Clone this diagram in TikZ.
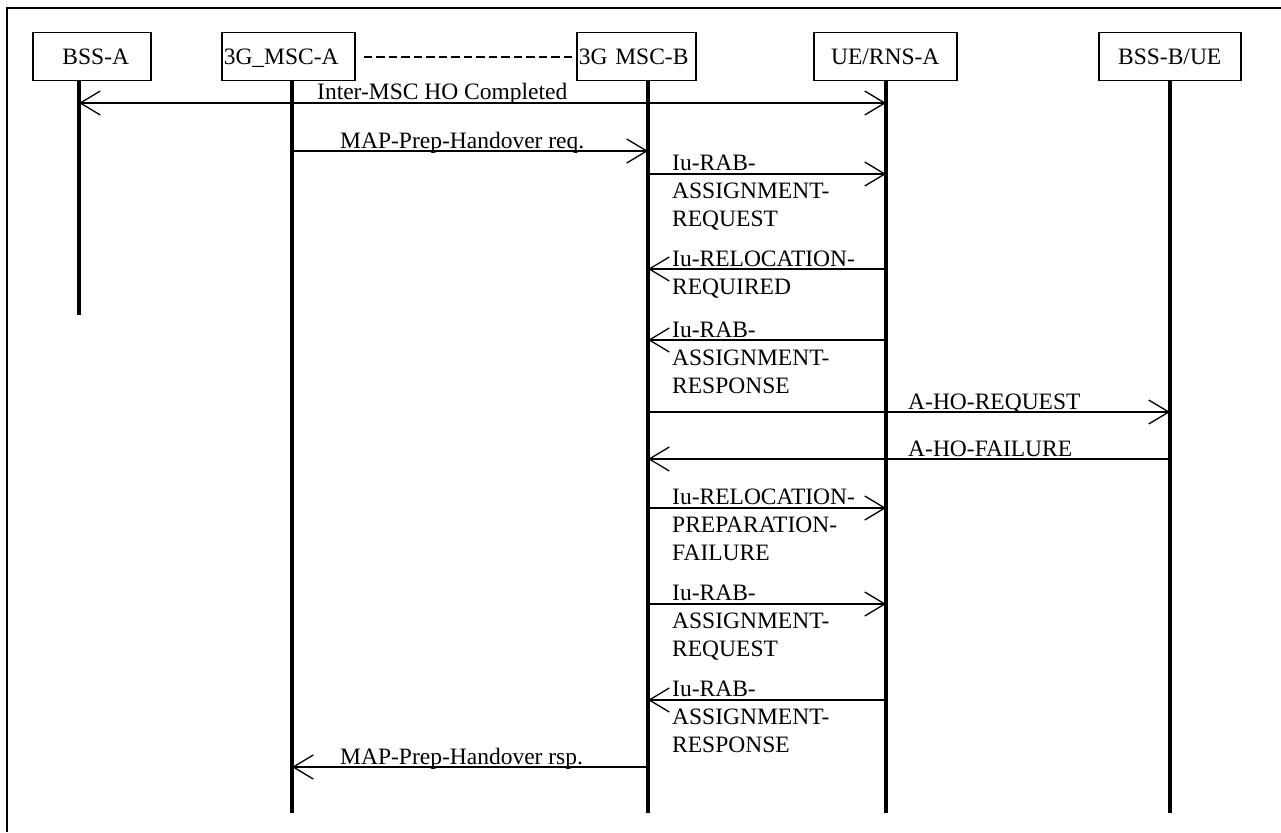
\documentclass[tikz,border=0pt]{standalone}
\usepackage{fontspec}
\setmainfont{Liberation Serif}
\usetikzlibrary{arrows.meta,calc}
\tikzset{
  box/.style={draw, line width=1.5pt, inner xsep=2pt, inner ysep=0pt, minimum height=48pt, text height=16pt, text depth=0pt, anchor=north west},
  life/.style={line width=4pt},
  msg/.style={line width=1.3pt},
  tipR/.style={-{Straight Barb[length=20pt,width=24pt,line width=1.3pt]}},
  tipL/.style={{Straight Barb[length=20pt,width=24pt,line width=1.3pt]}-},
  tipLR/.style={{Straight Barb[length=20pt,width=24pt,line width=1.3pt]}-{Straight Barb[length=20pt,width=24pt,line width=1.3pt]}},
  lbl/.style={inner sep=0pt, anchor=base west},
  mlbl/.style={inner sep=0pt, anchor=base west, text width=220pt, align=left},
}
\begin{document}
\begin{tikzpicture}[x=1pt, y=-1pt, font=\fontsize{23.5}{28}\selectfont]
\useasboundingbox (0,0) rectangle (1281,832);
\fill[white] (0,0) rectangle (1281,832);
% frame
\draw[line width=1.3pt] (7,832) -- (7,8) -- (1281,8);
% boxes
\node[box, text width=114pt, align=center] (bssA) at (32,32) {\hspace*{8pt}BSS-A};
\node[box, text width=129pt, align=left] (mscA) at (221,32) {3G\_MSC-A};
\node[box, text width=115pt, align=left] (mscB) at (576,32) {3G MSC-B};
\node[box, text width=139pt, align=center] (rnsA) at (813,32) {UE/RNS-A};
\node[box, text width=138pt, align=center] (bssB) at (1098,32) {BSS-B/UE};
% dashed link
\draw[line width=1.8pt, dash pattern=on 8.5pt off 4pt] ($(mscA.east)+(8,0)$) -- (mscB.west);
% lifelines
\coordinate (LbssA) at (79,80);
\coordinate (LmscA) at (292,80);
\coordinate (LmscB) at (648,80);
\coordinate (LrnsA) at (886,80);
\coordinate (LbssB) at (1170,80);
\coordinate (EbssA) at (79,315);
\coordinate (EmscA) at (292,813);
\coordinate (EmscB) at (648,813);
\coordinate (ErnsA) at (886,813);
\coordinate (EbssB) at (1170,813);
\draw[life] (LbssA) -- (EbssA);
\draw[life] (LmscA) -- (EmscA);
\draw[life] (LmscB) -- (EmscB);
\draw[life] (LrnsA) -- (ErnsA);
\draw[life] (LbssB) -- (EbssB);
% messages
\draw[msg, tipLR] (LbssA |- 0,103) -- (LrnsA |- 0,103);
\node[lbl] (t1) at (317,100) {Inter-MSC HO Completed};
\draw[msg, tipR] (LmscA |- 0,151) -- (LmscB |- 0,151);
\node[lbl] (t2) at (340,148) {MAP-Prep-Handover req.};
\draw[msg, tipR] (LmscB |- 0,174) -- (LrnsA |- 0,174);
\node[mlbl] (t3) at (672,170) {Iu-RAB-\\ASSIGNMENT-\\REQUEST};
\draw[msg, tipL] (LmscB |- 0,269) -- (LrnsA |- 0,269);
\node[mlbl] (t4) at (672,266) {Iu-RELOCATION-\\REQUIRED};
\draw[msg, tipL] (LmscB |- 0,340) -- (LrnsA |- 0,340);
\node[mlbl] (t5) at (672,337) {Iu-RAB-\\ASSIGNMENT-\\RESPONSE};
\draw[msg, tipR] (LmscB |- 0,412) -- (LbssB |- 0,412);
\node[lbl] (t6) at (908,409) {A-HO-REQUEST};
\draw[msg, tipL] (LmscB |- 0,459) -- (LbssB |- 0,459);
\node[lbl] (t7) at (908,456) {A-HO-FAILURE};
\draw[msg, tipR] (LmscB |- 0,508) -- (LrnsA |- 0,508);
\node[mlbl] (t8) at (672,504) {Iu-RELOCATION-\\PREPARATION-\\FAILURE};
\draw[msg, tipR] (LmscB |- 0,604) -- (LrnsA |- 0,604);
\node[mlbl] (t9) at (672,600) {Iu-RAB-\\ASSIGNMENT-\\REQUEST};
\draw[msg, tipL] (LmscB |- 0,700) -- (LrnsA |- 0,700);
\node[mlbl] (t10) at (672,696) {Iu-RAB-\\ASSIGNMENT-\\RESPONSE};
\draw[msg, tipL] (LmscA |- 0,767) -- (LmscB |- 0,767);
\node[lbl] (t11) at (340,764) {MAP-Prep-Handover rsp.};
\end{tikzpicture}
\end{document}
